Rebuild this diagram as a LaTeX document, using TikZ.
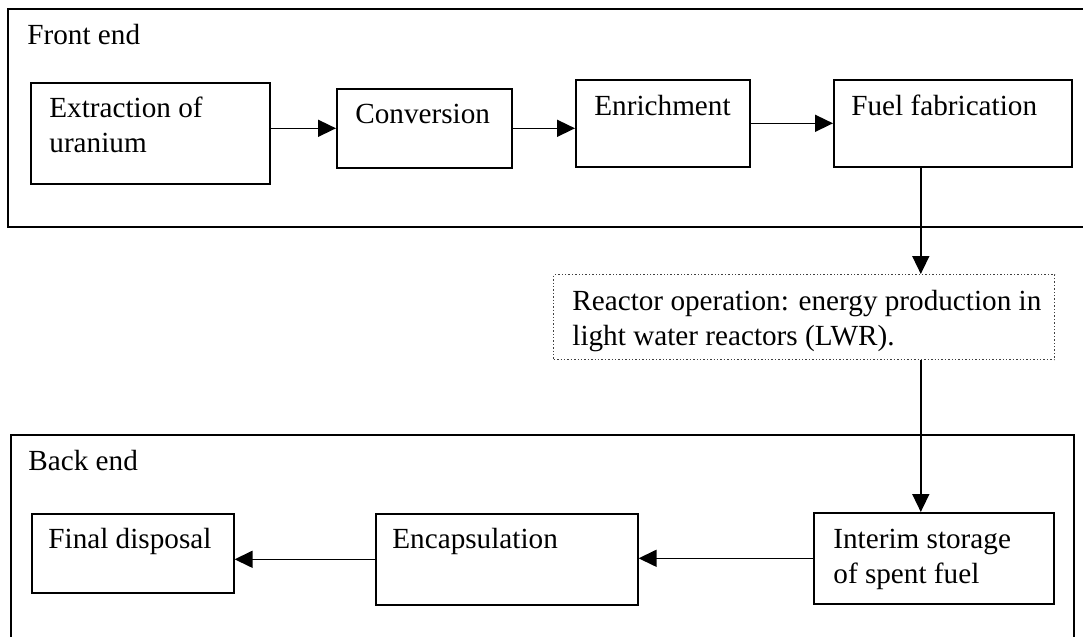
\documentclass[tikz,border=0pt]{standalone}
\usepackage{fontspec}
\setmainfont{Liberation Serif}
\usetikzlibrary{arrows.meta}

\tikzset{
  frame/.style={draw, line width=1pt},
  stage/.style={draw, line width=0.8pt, rectangle, anchor=north west, inner sep=0pt},
  reactorbox/.style={draw=black!75, densely dotted, line width=0.7pt, rectangle, anchor=north west, inner sep=0pt},
  txt/.style={anchor=base west, inner sep=0pt, align=left, font=\fontsize{14.6}{17.5}\selectfont},
  arr/.style={-{Triangle[length=9pt,width=8.5pt]}, line width=0.8pt}
}

\begin{document}
\begin{tikzpicture}[x=0.5pt,y=-0.5pt]
\clip (0,0) rectangle (1083,637);
%% outer frames
\draw[frame] (8,9) rectangle (1100,227);
\draw[frame] (11,435) rectangle (1074,660);
\node[txt] (fronttxt) at (27,45) {Front end};
\node[txt] (backtxt) at (28,470) {Back end};

%% front end stages
\node[stage, minimum width=119.5pt, minimum height=50.5pt] (extr) at (30,82) {};
\node[stage, minimum width=87.5pt, minimum height=39.5pt] (conv) at (336,88) {};
\node[stage, minimum width=87pt, minimum height=43.5pt] (enr) at (575,79) {};
\node[stage, minimum width=119pt, minimum height=43.5pt] (fuel) at (833,79) {};

%% two-line texts sit on the baseline of their last line
\node[txt] (extrtxt) at ([xshift=9.5pt,yshift=-35pt]extr.north west) {Extraction of\\uranium};
\node[txt] (convtxt) at ([xshift=9.5pt,yshift=-17.5pt]conv.north west) {Conversion};
\node[txt] (enrtxt) at ([xshift=9.5pt,yshift=-18pt]enr.north west) {Enrichment};
\node[txt] (fueltxt) at ([xshift=9pt,yshift=-18pt]fuel.north west) {Fuel fabrication};

%% reactor
\node[reactorbox, minimum width=250.5pt, minimum height=42.5pt] (reac) at (553,274) {};
\node[txt] (reactxt) at ([xshift=9.5pt,yshift=-35.5pt]reac.north west) {Reactor operation: energy production in\\light water reactors (LWR).};

%% back end stages
\node[stage, minimum width=120pt, minimum height=45.5pt] (inter) at (813,512) {};
\node[stage, minimum width=131pt, minimum height=45.5pt] (enc) at (375,513) {};
\node[stage, minimum width=101pt, minimum height=39.5pt] (fin) at (31,513) {};

\node[txt] (intertxt) at ([xshift=10pt,yshift=-35.5pt]inter.north west) {Interim storage\\of spent fuel};
\node[txt] (enctxt) at ([xshift=8.5pt,yshift=-17.5pt]enc.north west) {Encapsulation};
\node[txt] (fintxt) at ([xshift=8.5pt,yshift=-17.5pt]fin.north west) {Final disposal};

%% arrows
\coordinate (drop) at ([xshift=-16pt]fuel.south);
\draw[arr] (extr.east |- conv.west) -- (conv.west);
\draw[arr] (conv.east) -- (conv.east -| enr.west);
\draw[arr] (enr.east) -- (fuel.west);
\draw[arr] (drop) -- (drop |- reac.north);
\draw[arr] (drop |- reac.south) -- (drop |- inter.north);
\draw[arr] (inter.west) -- (inter.west -| enc.east);
\draw[arr] (enc.west) -- (enc.west -| fin.east);
\end{tikzpicture}
\end{document}
